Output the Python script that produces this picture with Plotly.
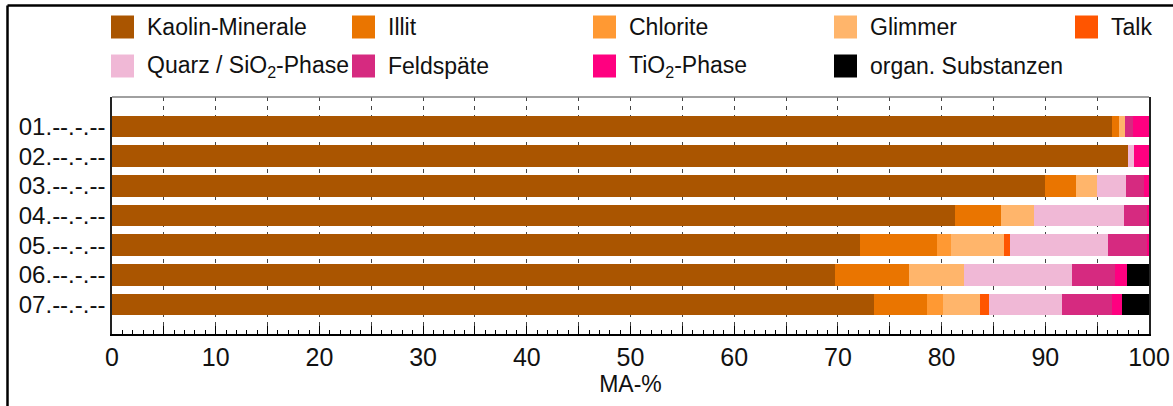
import plotly.graph_objects as go

# Samples (top to bottom) and mineral phase contents in MA-%
samples = ["01.--.-.--", "02.--.-.--", "03.--.-.--", "04.--.-.--",
           "05.--.-.--", "06.--.-.--", "07.--.-.--"]

kaolin    = [96.4, 98.0, 90.0, 81.3, 72.1, 69.7, 73.5]
illit     = [0.7, 0.0, 3.0, 4.4, 7.5, 7.2, 5.1]
chlorite  = [0.0, 0.0, 0.0, 0.0, 1.3, 0.0, 1.5]
glimmer   = [0.6, 0.0, 2.0, 3.2, 5.1, 5.3, 3.6]
talk      = [0.0, 0.0, 0.0, 0.0, 0.6, 0.0, 0.9]
quarz     = [0.0, 0.6, 2.8, 8.7, 9.4, 10.4, 7.0]
feldspaete = [0.8, 0.0, 1.7, 2.2, 3.9, 4.1, 4.8]
tio2      = [1.5, 1.4, 0.5, 0.2, 0.1, 1.2, 1.0]
organ     = [0.0, 0.0, 0.0, 0.0, 0.0, 2.1, 2.6]

phase_names = ["Kaolin-Minerale", "Illit", "Chlorite", "Glimmer", "Talk",
               "Quarz / SiO<sub>2</sub>-Phase", "Feldspäte",
               "TiO<sub>2</sub>-Phase", "organ. Substanzen"]
phase_values = [kaolin, illit, chlorite, glimmer, talk, quarz,
                feldspaete, tio2, organ]
phase_colors = ["#AA5500", "#EA7500", "#FF9933", "#FFB56B", "#FF5500",
                "#F0B8D6", "#D62A80", "#FF0080", "#000000"]

FONT = "Liberation Sans, Arial, sans-serif"
TEXT = "#111111"

W, H = 1173, 406
L, R, T, B = 112, 24, 97, 72
PW, PH = W - L - R, H - T - B


def xp(px):
    return (px - L) / PW


def yp(py):
    return (H - B - py) / PH


fig = go.Figure()
for name, vals, color in zip(phase_names, phase_values, phase_colors):
    fig.add_trace(go.Bar(
        y=samples, x=vals, name=name, orientation="h",
        marker=dict(color=color, line=dict(width=0)),
        showlegend=False, hoverinfo="skip",
    ))

shapes = []
annotations = []

# Legend: 5 columns x 2 rows of square swatches with labels
for i, (name, color) in enumerate(zip(phase_names, phase_colors)):
    col, row = i % 5, i // 5
    sx = 111 + 241 * col
    cy = 27 + 39 * row
    shapes.append(dict(type="rect", xref="paper", yref="paper",
                       x0=xp(sx), x1=xp(sx + 23), y0=yp(cy + 11.5), y1=yp(cy - 11.5),
                       fillcolor=color, line=dict(width=0), layer="above"))
    annotations.append(dict(text=name, xref="paper", yref="paper",
                            x=xp(sx + 34), y=yp(cy), xanchor="left", yanchor="middle",
                            showarrow=False, font=dict(family=FONT, size=23, color=TEXT)))

# Outer frame (left and top edges)
shapes.append(dict(type="line", xref="paper", yref="paper",
                   x0=xp(7.5), x1=xp(7.5), y0=yp(5.5), y1=yp(420),
                   line=dict(color="black", width=2.5)))
shapes.append(dict(type="line", xref="paper", yref="paper",
                   x0=xp(7.5), x1=xp(1190), y0=yp(5.5), y1=yp(5.5),
                   line=dict(color="black", width=2.5)))
# Top edge of the plot area
shapes.append(dict(type="line", xref="paper", yref="paper",
                   x0=0, x1=1, y0=1, y1=1,
                   line=dict(color="#808080", width=1.5)))

fig.update_layout(
    width=W, height=H,
    margin=dict(l=L, r=R, t=T, b=B, autoexpand=False),
    paper_bgcolor="white", plot_bgcolor="white",
    barmode="stack", bargap=0.27,
    font=dict(family=FONT, color=TEXT),
    shapes=shapes, annotations=annotations,
    xaxis=dict(
        range=[0, 100], tickmode="linear", tick0=0, dtick=5, ticklabelstep=2,
        ticks="inside", ticklen=8, tickwidth=1, tickcolor="black",
        tickfont=dict(family=FONT, size=25, color=TEXT),
        ticklabeloverflow="allow",
        showline=True, linecolor="black", linewidth=2, mirror=False,
        showgrid=True, gridcolor="#444444", gridwidth=1, griddash="4px,5px",
        zeroline=False,
        minor=dict(tick0=0, dtick=1, ticks="inside", ticklen=4,
                   tickcolor="black", tickwidth=1, showgrid=False),
        title=dict(text="MA-%", font=dict(family=FONT, size=23, color=TEXT), standoff=0),
        automargin=False,
    ),
    yaxis=dict(
        type="category", categoryorder="array", categoryarray=samples,
        range=[7, -1], showgrid=False, zeroline=False,
        showline=True, linecolor="#222222", linewidth=1.5, mirror=True,
        ticks="", tickfont=dict(family=FONT, size=24, color=TEXT),
        automargin=False,
    ),
)

fig.write_html("out.html", config=dict(displayModeBar=False))
